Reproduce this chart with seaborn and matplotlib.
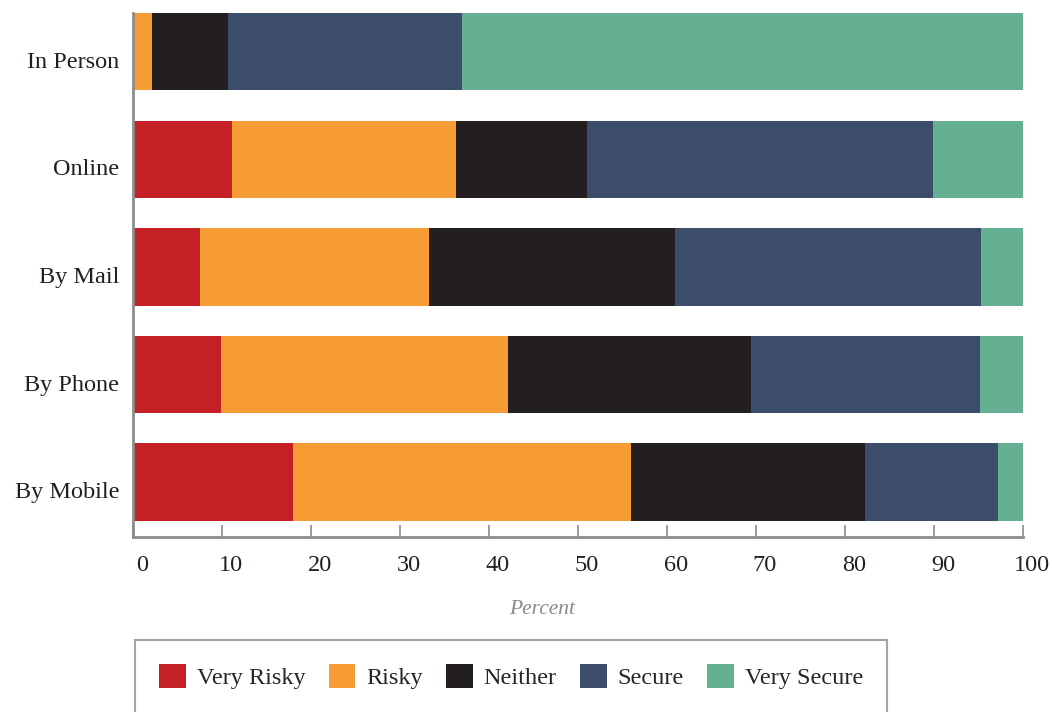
import numpy as np
import pandas as pd
import matplotlib.pyplot as plt
import matplotlib.transforms as mtransforms
from matplotlib.patches import Patch
import seaborn as sns

# data (percent per response)
channels = ['In Person', 'Online', 'By Mail', 'By Phone', 'By Mobile']
responses = ['Very Risky', 'Risky', 'Neither', 'Secure', 'Very Secure']
very_risky = [0.0, 11.1, 7.5, 9.9, 18.0]
risky = [2.1, 25.2, 25.8, 32.2, 38.0]
neither = [8.6, 14.7, 27.6, 27.3, 26.2]
secure = [26.3, 38.9, 34.4, 25.8, 15.0]
very_secure = [63.0, 10.1, 4.7, 4.8, 2.8]
colors = ['#C52026', '#F79C34', '#231F20', '#3B4D6B', '#65AF93']

df = pd.DataFrame({'channel': channels, 'Very Risky': very_risky, 'Risky': risky,
                   'Neither': neither, 'Secure': secure, 'Very Secure': very_secure})
# cumulative ends for stacking
cum = df[responses].cumsum(axis=1)
cum['channel'] = df['channel']

sns.set_style('white')
plt.rcParams['font.family'] = ['Liberation Serif', 'DejaVu Serif']

fig = plt.figure(figsize=(10.52, 7.12), dpi=100)
ax = fig.add_axes([133 / 1052, 1 - 537 / 712, 890 / 1052, 524 / 712])

# draw the longest stack first, shorter ones on top
for resp, col in reversed(list(zip(responses, colors))):
    sns.barplot(data=cum, x=resp, y='channel', orient='h', color=col,
                saturation=1, width=0.72, linewidth=0, ax=ax)

ax.set_xlim(0, 100)
ax.set_ylim(4.51, -0.36)
ax.set_xticks(range(0, 101, 10))
ax.set_ylabel('')
ax.set_xlabel('Percent', fontsize=15.5, style='italic', color='#8a8a8a')
ax.xaxis.set_label_coords(0.46, -0.12)

for s in ['top', 'right']:
    ax.spines[s].set_visible(False)
for s in ['left', 'bottom']:
    ax.spines[s].set_color('#8c8c8c')
    ax.spines[s].set_linewidth(2)

ax.tick_params(axis='x', bottom=True, direction='in', length=9, width=1.2,
               color='#8c8c8c', labelsize=17.5, labelcolor='#231F20', pad=13)
ax.tick_params(axis='y', left=False, length=0, labelsize=17.5,
               labelcolor='#231F20', pad=10)
xoff = mtransforms.ScaledTranslation(9 / 100, 0, fig.dpi_scale_trans)
for lbl in ax.get_xticklabels():
    lbl.set_transform(lbl.get_transform() + xoff)
yoff = mtransforms.ScaledTranslation(0, -8 / 100, fig.dpi_scale_trans)
for lbl in ax.get_yticklabels():
    lbl.set_transform(lbl.get_transform() + yoff)

handles = [Patch(facecolor=c, edgecolor='none', label=r) for r, c in zip(responses, colors)]
leg = fig.legend(handles=handles, loc='upper left', ncol=5,
                 bbox_to_anchor=(135 / 1052, 1 - 640 / 712), fontsize=17.5,
                 frameon=True, fancybox=False, edgecolor='#8c8c8c',
                 handlelength=1.1, handleheight=1.1, handletextpad=0.45,
                 columnspacing=0.95, borderpad=1.0, borderaxespad=0)
leg.get_frame().set_linewidth(1.5)

fig.savefig('out.png', dpi=100)
